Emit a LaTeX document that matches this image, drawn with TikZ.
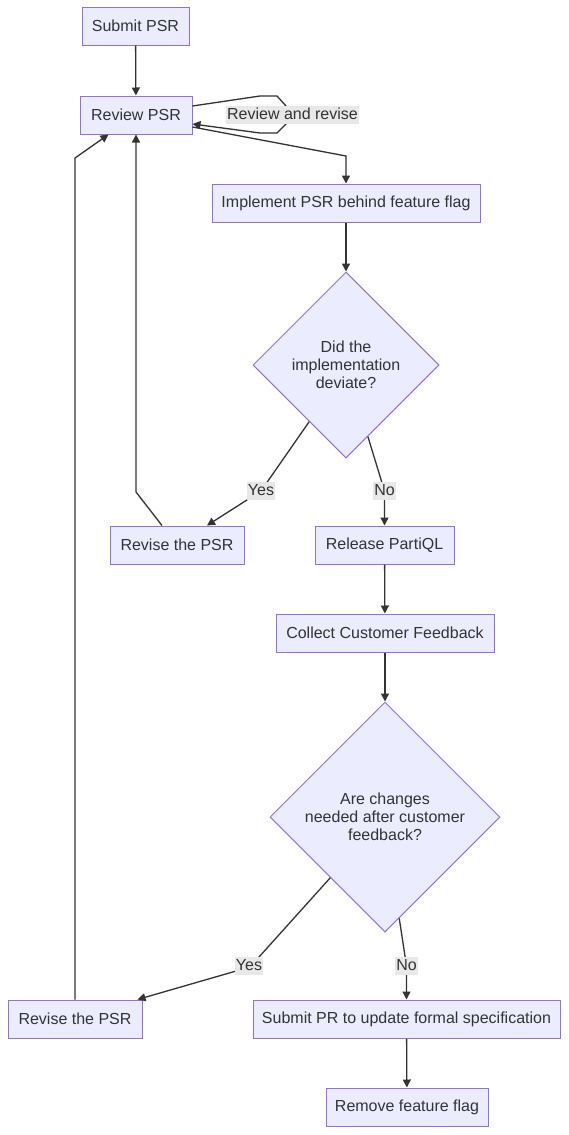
\documentclass[tikz,border=0pt]{standalone}
\usepackage{fontspec}
\setmainfont{Liberation Sans}
\usetikzlibrary{shapes.geometric,arrows.meta,calc}
\definecolor{nodefill}{HTML}{ECECFF}
\definecolor{nodeline}{HTML}{9370DB}
\definecolor{ink}{HTML}{333333}
\definecolor{lblbg}{HTML}{E8E8E8}
\begin{document}
\begin{tikzpicture}[x=1pt,y=-1pt,
 every node/.style={font=\fontsize{16}{18}\selectfont, text=ink},
 box/.style={draw=nodeline, fill=nodefill, line width=1pt, minimum height=38pt, inner sep=0pt},
 dec/.style={diamond, aspect=1, draw=nodeline, fill=nodefill, line width=1pt, minimum width=#1, minimum height=#1, inner sep=0pt, align=center},
 lbl/.style={fill=lblbg, inner xsep=1pt, inner ysep=1pt, text height=12pt, text depth=4pt},
 arr/.style={draw=ink, line width=1.3pt, -{Triangle[length=8pt,width=8pt]}}]
\fill[white] (0,0) rectangle (569,1135);
\useasboundingbox (0,0) rectangle (569,1135);

\node[box, minimum width=107pt] (sub) at (135.5,26) {Submit PSR};
\node[box, minimum width=112pt] (rev) at (136,115) {Review PSR};
\node[box, minimum width=268pt] (impl) at (346,203) {Implement PSR behind feature flag};
\node[dec=186pt] (d1) at (346,365) {Did the\\implementation\\deviate?};
\node[box, minimum width=134pt] (rv1) at (177,545) {Revise the PSR};
\node[box, minimum width=139pt] (rel) at (384.5,545) {Release PartiQL};
\node[box, minimum width=218pt] (col) at (385,633) {Collect Customer Feedback};
\node[dec=230pt] (d2) at (385,817) {Are changes\\needed after customer\\feedback?};
\node[box, minimum width=134pt] (rv2) at (75,1019) {Revise the PSR};
\node[box, minimum width=307pt] (spr) at (406.5,1019) {Submit PR to update formal specification};
\node[box, minimum width=162pt] (rem) at (407,1107) {Remove feature flag};

\draw[arr] (sub) -- (rev);
\draw[arr] ($(rev.east)+(0,-9)$) -- (260,96) -- (277,96) -- (286,106) -- (286,124) -- (277,133) -- (260,133) -- ($(rev.east)+(0,9)$);
\draw[arr] ($(rev.east)+(0,12)$) -- (346,156) -- (impl.north);
\draw[arr] (impl) -- (d1);
\draw[arr] (d1.237.7) -- (261,491) -- ($(rv1.north)+(30,0)$);
\draw[arr] (d1.287.7) -- (384.5,491) -- (rel.north);
\draw[arr] ($(rv1.north)+(-15,0)$) -- (136,492) -- (rev.south);
\draw[arr] (rel) -- (col);
\draw[arr] (col) -- (d2);
\draw[arr] (d2.228.4) -- (250,967) -- ($(rv2.north east)+(-5,0)$);
\draw[arr] (d2.278.4) -- (406.5,966) -- (spr.north);
\draw[arr] (rv2.north) -- (75,158) -- ($(rev.south west)+(29,0)$);
\draw[arr] (spr) -- (rem);

\node[lbl] (l0) at (292.5,115) {Review and revise};
\node[lbl] (l1) at (261,491) {Yes};
\node[lbl] (l2) at (384.5,491) {No};
\node[lbl] (l3) at (249,966) {Yes};
\node[lbl] (l4) at (406.5,966) {No};
\end{tikzpicture}
\end{document}
